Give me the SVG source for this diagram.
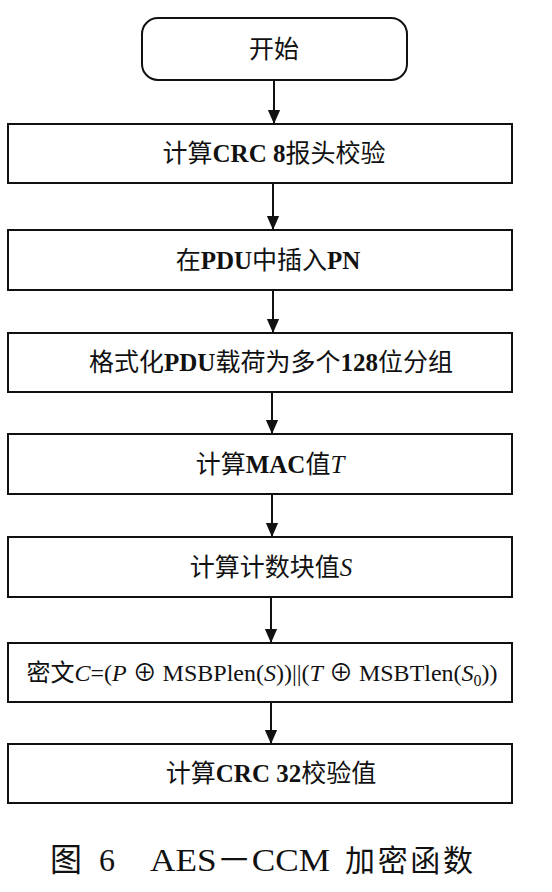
<svg xmlns="http://www.w3.org/2000/svg" width="552" height="892" viewBox="0 0 552 892">
<defs>
<style>
.box{fill:#fff;stroke:#111;stroke-width:2}
.t{font-family:"Liberation Serif","Noto Sans CJK SC",serif;font-size:25px;fill:#111;text-anchor:middle}
.b{font-weight:bold}
.i{font-style:italic}
.c{stroke:#111;stroke-width:2;fill:none}
.cap{font-family:"Liberation Serif","Noto Sans CJK SC",serif;font-size:32px;fill:#111}
</style>
<marker id="a" markerWidth="14" markerHeight="16" refX="16" refY="7" orient="auto" markerUnits="userSpaceOnUse" viewBox="0 0 16 14">
<path d="M0,0 L16,7 L0,14 Z" fill="#111"/>
</marker>
</defs>
<rect width="552" height="892" fill="#fff"/>
<g id="connectors">
<line class="c" x1="274" y1="80" x2="274" y2="124" marker-end="url(#a)"/>
<line class="c" x1="273" y1="183" x2="273" y2="230" marker-end="url(#a)"/>
<line class="c" x1="273" y1="290" x2="273" y2="333" marker-end="url(#a)"/>
<line class="c" x1="272" y1="392" x2="272" y2="434" marker-end="url(#a)"/>
<line class="c" x1="272" y1="494" x2="272" y2="537" marker-end="url(#a)"/>
<line class="c" x1="271" y1="597" x2="271" y2="643" marker-end="url(#a)"/>
<line class="c" x1="271" y1="702" x2="271" y2="744" marker-end="url(#a)"/>
</g>
<g id="start">
<rect class="box" x="142" y="18" width="265" height="62" rx="16"/>
<text class="t" x="274" y="58">开始</text>
</g>
<g id="n1">
<rect class="box" x="8" y="124" width="504" height="59"/>
<text class="t" x="274" y="162">计算<tspan class="b">CRC 8</tspan>报头校验</text>
</g>
<g id="n2">
<rect class="box" x="8" y="230" width="504" height="60"/>
<text class="t" x="268" y="269">在<tspan class="b">PDU</tspan>中插入<tspan class="b">PN</tspan></text>
</g>
<g id="n3">
<rect class="box" x="8" y="333" width="504" height="59"/>
<text class="t" x="271" y="371">格式化<tspan class="b">PDU</tspan>载荷为多个<tspan class="b">128</tspan>位分组</text>
</g>
<g id="n4">
<rect class="box" x="8" y="434" width="504" height="60"/>
<text class="t" x="270" y="473">计算<tspan class="b">MAC</tspan>值<tspan class="i">T</tspan></text>
</g>
<g id="n5">
<rect class="box" x="8" y="537" width="504" height="60"/>
<text class="t" x="271" y="576">计算计数块值<tspan class="i">S</tspan></text>
</g>
<g id="n6">
<rect class="box" x="8" y="643" width="504" height="59"/>
<text class="t" x="262" y="681" style="font-size:24px">密文<tspan class="i">C</tspan>=(<tspan class="i">P</tspan> ⊕ MSBPlen(<tspan class="i">S</tspan>))||(<tspan class="i">T</tspan> ⊕ MSBTlen(<tspan class="i">S</tspan><tspan style="font-size:16px" dy="5">0</tspan><tspan dy="-5">))</tspan></text>
</g>
<g id="n7">
<rect class="box" x="8" y="744" width="504" height="59"/>
<text class="t" x="271" y="782">计算<tspan class="b">CRC 32</tspan>校验值</text>
</g>
<text class="cap" x="50" y="871">图</text>
<text class="cap" x="99" y="871">6</text>
<text class="cap" x="150" y="871" textLength="180" lengthAdjust="spacingAndGlyphs">AES－CCM</text>
<text class="cap" x="345" y="871" textLength="128" style="font-size:30px">加密函数</text>
</svg>
